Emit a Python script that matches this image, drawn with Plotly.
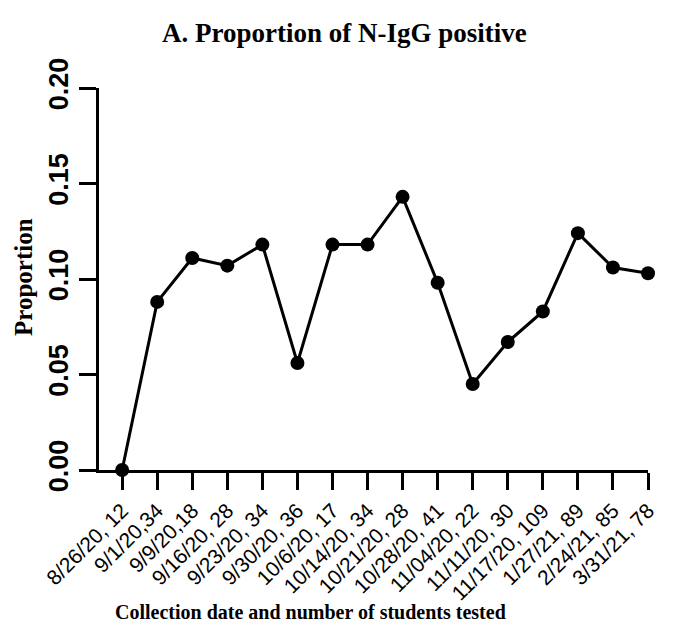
import plotly.graph_objects as go

categories = ["8/26/20, 12", "9/1/20,34", "9/9/20,18", "9/16/20, 28", "9/23/20, 34",
              "9/30/20, 36", "10/6/20, 17", "10/14/20, 34", "10/21/20, 28", "10/28/20, 41",
              "11/04/20, 22", "11/11/20, 30", "11/17/20, 109", "1/27/21, 89", "2/24/21, 85",
              "3/31/21, 78"]
proportion = [0.0, 0.088, 0.111, 0.107, 0.118, 0.056, 0.118, 0.118, 0.143, 0.098,
              0.045, 0.067, 0.083, 0.124, 0.106, 0.103]
y_ticks = [0.0, 0.05, 0.10, 0.15, 0.20]
y_tick_text = ["0.00", "0.05", "0.10", "0.15", "0.20"]

idx = list(range(len(categories)))

W, H = 668, 636          # page has an 8px body margin
OFF = 8
pl, pr, pt, pb = 91, 28, 80, 174
pw, ph = W - pl - pr, H - pt - pb


def px(x):
    return (x - OFF - pl) / pw


def py(y):
    return (H - pb - (y - OFF)) / ph


fig = go.Figure()
fig.add_trace(go.Scatter(
    x=idx, y=proportion, mode="lines+markers",
    line=dict(color="black", width=3),
    marker=dict(color="black", size=14),
    cliponaxis=False, showlegend=False,
))

fig.update_layout(
    width=W, height=H,
    margin=dict(l=pl, r=pr, t=pt, b=pb),
    paper_bgcolor="white", plot_bgcolor="white",
    xaxis=dict(
        range=[-0.66, 15.0], tickmode="array", tickvals=idx, ticktext=categories,
        tickangle=-45, ticks="outside", ticklen=17, tickwidth=3, tickcolor="black",
        showline=True, linecolor="black", linewidth=3, showgrid=False, zeroline=False,
        tickfont=dict(family="Liberation Sans, Arial", size=21, color="black"),
        automargin=False,
    ),
    yaxis=dict(
        range=[0, 0.2], tickmode="array", tickvals=y_ticks, ticktext=y_tick_text,
        tickangle=-90, ticks="outside", ticklen=17, tickwidth=3, tickcolor="black",
        showline=True, linecolor="black", linewidth=3, showgrid=False, zeroline=False,
        tickfont=dict(family="Liberation Sans, Arial", size=27, color="black", weight="bold"),
        automargin=False,
    ),
)

common = dict(xref="paper", yref="paper", showarrow=False, xanchor="center", yanchor="middle")
fig.add_annotation(text="<b>A. Proportion of N-IgG positive</b>", x=px(344), y=py(33),
                   font=dict(family="Liberation Serif, Times New Roman", size=27, color="black"),
                   **common)
fig.add_annotation(text="<b>Collection date and number of students tested</b>", x=px(310), y=py(612),
                   font=dict(family="Liberation Serif, Times New Roman", size=20, color="black"),
                   **common)
fig.add_annotation(text="<b>Proportion</b>", x=px(23), y=py(277), textangle=-90,
                   font=dict(family="Liberation Serif, Times New Roman", size=25, color="black"),
                   **common)

fig.write_html("out.html")
